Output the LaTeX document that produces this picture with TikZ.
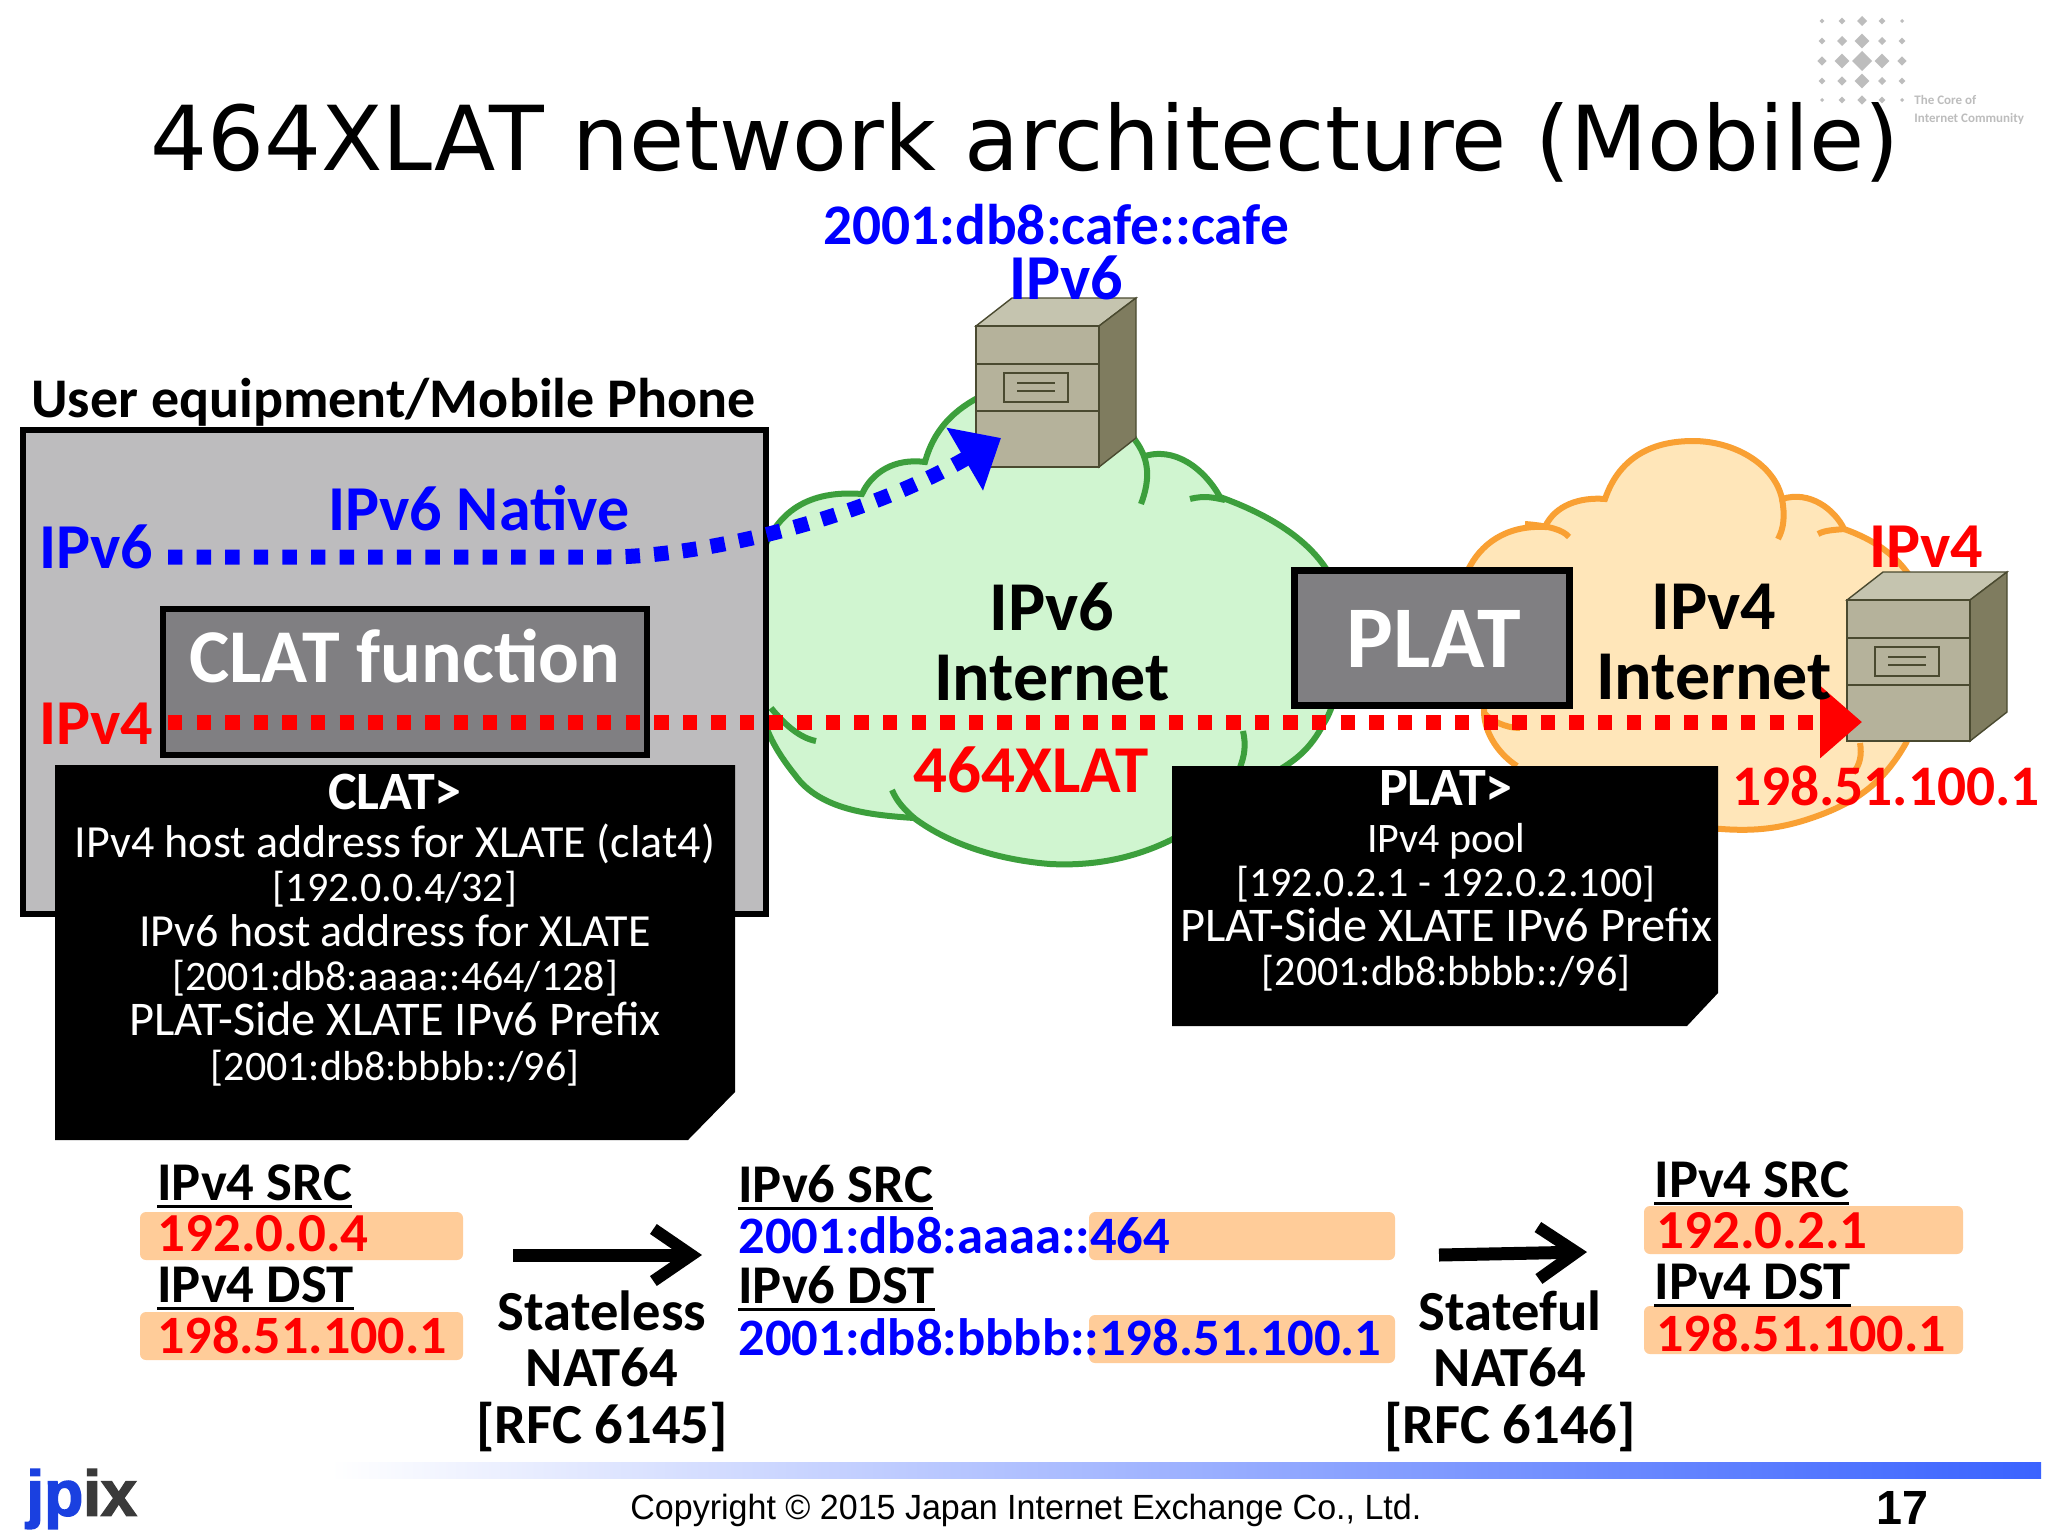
\documentclass[tikz,border=0pt]{standalone}
\usepackage{fontspec}
\usepackage{xcolor}
\usetikzlibrary{arrows.meta}
\newfontfamily\comicfont{Carlito}
\newfontfamily\titlefont{DejaVu Sans}
\newfontfamily\footfont[FakeStretch=0.972]{Liberation Sans}
\newfontfamily\logofont[UprightFont=* Bold,FakeBold=2.5]{Liberation Sans}
\definecolor{uegray}{HTML}{BDBCBE}
\definecolor{fngray}{HTML}{807F82}
\definecolor{cloudgreen}{HTML}{D0F5D0}
\definecolor{edgegreen}{HTML}{3C9F3C}
\definecolor{cloudorange}{HTML}{FFE6B9}
\definecolor{edgeorange}{HTML}{F9A033}
\definecolor{addrorange}{HTML}{FFCC99}
\definecolor{srvfront}{HTML}{B5B29B}
\definecolor{srvtop}{HTML}{C5C4AF}
\definecolor{srvside}{HTML}{7F7C5F}
\definecolor{srvline}{HTML}{4A4A30}
\definecolor{logogray}{HTML}{BDBDBD}
\definecolor{barblue}{HTML}{3A63FF}
\definecolor{logoblue}{HTML}{1A40E0}
\definecolor{logodark}{HTML}{3A3A3A}
\newcommand{\fsz}[1]{\fontsize{#1pt}{#1pt}\selectfont}
\newcommand{\ulhead}[1]{\leavevmode\setbox0\hbox{#1}\rlap{\raisebox{-4pt}{\rule{\wd0}{1.6pt}}}\box0}
\newcommand{\notew}[1]{{\fontsize{23pt}{22.3pt}\selectfont #1}}
\newcommand{\notep}[1]{{\fontsize{24.2pt}{22.3pt}\selectfont #1}}
\newcommand{\noteh}[1]{{\fontsize{27pt}{22.3pt}\selectfont\bfseries #1}}
\tikzset{
    lab/.style={inner sep=0pt,font=\comicfont\bfseries\fsz{#1}},
    notetext/.style={inner sep=0pt,text=white,align=center,font=\comicfont\fontsize{21pt}{22.3pt}\selectfont},
    cloudg/.style={draw=edgegreen,line width=3pt},
    cloudo/.style={draw=edgeorange,line width=3pt},
    framebox/.style={draw=black,line width=3.2pt},
    addrbox/.style={fill=addrorange,rounded corners=3pt},
    dotted six/.style={draw=blue,line width=7.5pt,dash pattern=on 7.2pt off 7.1pt,-{Triangle[length=21pt,width=35pt]}},
    dotted four/.style={draw=red,line width=7.5pt,dash pattern=on 7.2pt off 7.1pt,-{Triangle[length=21pt,width=35pt]}},
    natarrow/.style={draw=black,line width=6.5pt,-{Straight Barb[length=19pt,width=26pt,line width=6pt]}}
}
\begin{document}
\begin{tikzpicture}[x=0.5pt,y=-0.5pt]
    \useasboundingbox (0,0) rectangle (2048,1536);
    \fill[white] (0,0) rectangle (2048,1536);
    \foreach \ly/\lrow in {21/{2.3,3.3,5,3.3,2},41/{3.3,5,7.3,4,3.3},61/{4.7,7.3,10,7.3,4.7},81/{3.3,4.7,7.3,4,3.3},100/{2,3.3,4.7,3.3,2}}{
        \foreach \lsz [count=\j] in \lrow {
            \pgfmathsetmacro\lx{1802+20*\j}
            \fill[logogray] (\lx-\lsz,\ly) -- (\lx,\ly-\lsz) -- (\lx+\lsz,\ly) -- (\lx,\ly+\lsz) -- cycle;
        }
    }
    \node[inner sep=0pt,anchor=west,text=logogray,align=left,font=\comicfont\bfseries\fontsize{6.5pt}{8.8pt}\selectfont] (corelabel) at (1914,110) {The Core of\\Internet Community};
    \node[inner sep=0pt,font=\titlefont\fsz{44.8}] (title) at (1025,142) {464XLAT network architecture (Mobile)};

    \fill[cloudorange] (1468,570) .. controls (1480,545) and (1505,525) .. (1545,527) .. controls (1555,505) and (1580,497) .. (1605,499) .. controls (1620,455) and (1655,441) .. (1693,441) .. controls (1735,441) and (1775,465) .. (1782,499) .. controls (1810,490) and (1835,510) .. (1844,529) .. controls (1875,540) and (1895,555) .. (1909,575) .. controls (1925,640) and (1925,700) .. (1906,743) .. controls (1885,780) and (1860,800) .. (1820,815) .. controls (1780,830) and (1750,832) .. (1710,828) -- (1517,766) .. controls (1500,755) and (1485,735) .. (1484,713) -- cycle;
    \draw[cloudo] (1468,570) .. controls (1480,545) and (1505,525) .. (1545,527) .. controls (1555,505) and (1580,497) .. (1605,499) .. controls (1620,455) and (1655,441) .. (1693,441) .. controls (1735,441) and (1775,465) .. (1782,499) .. controls (1810,490) and (1835,510) .. (1844,529) .. controls (1875,540) and (1895,555) .. (1909,575) .. controls (1925,640) and (1925,700) .. (1906,743) .. controls (1885,780) and (1860,800) .. (1820,815) .. controls (1780,830) and (1750,832) .. (1710,828);
    \draw[cloudo] (1517,766) .. controls (1500,755) and (1485,735) .. (1484,713) -- (1484,690);
    \draw[cloudo] (1525,524) .. controls (1550,526) and (1563,530) .. (1569,537);
    \draw[cloudo] (1782,499) .. controls (1785,515) and (1784,528) .. (1778,539);
    \draw[cloudo] (1818,534) .. controls (1825,530) and (1835,530) .. (1844,529);
    \draw[cloudo] (1860,743) .. controls (1862,755) and (1860,765) .. (1853,773);
    \draw[cloudo] (1484,713) .. controls (1490,720) and (1505,728) .. (1520,728);

    \fill[cloudgreen] (760,560) .. controls (775,510) and (810,490) .. (862,494) .. controls (872,472) and (895,458) .. (925,462) .. controls (935,425) and (960,405) .. (990,392) .. controls (1040,370) and (1110,390) .. (1135,440) -- (1142,457) .. controls (1175,445) and (1205,470) .. (1220,497) .. controls (1270,515) and (1310,540) .. (1330,575) .. controls (1345,620) and (1345,690) .. (1324,723) .. controls (1310,750) and (1295,760) .. (1279,770) .. controls (1215,820) and (1185,832) .. (1171,840) .. controls (1130,860) and (1090,866) .. (1050,864) .. controls (1000,860) and (950,845) .. (914,818) .. controls (870,815) and (820,810) .. (795,775) .. controls (775,750) and (765,730) .. (760,705) -- cycle;
    \draw[cloudg] (760,560) .. controls (775,510) and (810,490) .. (862,494) .. controls (872,472) and (895,458) .. (925,462) .. controls (935,425) and (960,405) .. (990,392) .. controls (1040,370) and (1110,390) .. (1135,440) (1142,457) .. controls (1175,445) and (1205,470) .. (1220,497) .. controls (1270,515) and (1310,540) .. (1330,575) .. controls (1345,620) and (1345,690) .. (1324,723) .. controls (1310,750) and (1295,760) .. (1279,770) .. controls (1215,820) and (1185,832) .. (1171,840) .. controls (1130,860) and (1090,866) .. (1050,864) .. controls (1000,860) and (950,845) .. (914,818) .. controls (870,815) and (820,810) .. (795,775) .. controls (775,750) and (765,730) .. (760,705);
    \draw[cloudg] (1135,440) .. controls (1150,460) and (1150,480) .. (1141,504);
    \draw[cloudg] (1190,499) .. controls (1205,495) and (1215,498) .. (1225,500);
    \draw[cloudg] (771,708) .. controls (785,725) and (800,738) .. (816,741);
    \draw[cloudg] (892,790) .. controls (897,802) and (905,810) .. (914,818);
    \draw[cloudg] (1243,731) .. controls (1246,745) and (1245,755) .. (1239,770);

    \foreach \sx/\sy in {976/326,1847/600}{
        \begin{scope}[shift={(\sx,\sy)}]
            \filldraw[fill=srvtop,draw=srvline,line width=0.7pt] (0,0) -- (36,-28) -- (160,-28) -- (123,0) -- cycle;
            \filldraw[fill=srvside,draw=srvline,line width=0.7pt] (123,0) -- (160,-28) -- (160,112) -- (123,141) -- cycle;
            \filldraw[fill=srvfront,draw=srvline,line width=0.7pt] (0,0) rectangle (123,141);
            \draw[srvline,line width=1pt] (0,38) -- (123,38) (0,85) -- (123,85);
            \draw[srvline,line width=1pt] (28,47) rectangle (92,76);
            \draw[srvline,line width=0.8pt] (41,57) -- (79,57) (41,65) -- (79,65);
        \end{scope}
    }

    \filldraw[fill=uegray,framebox] (23,430) rectangle (766,914);
    \node[lab=28,anchor=south west] (uelabel) at (31,427) {User equipment/Mobile Phone};
    \node[draw=black,fill=fngray,framebox,minimum width=242pt,minimum height=73pt,inner sep=0pt] (clatbox) at (405,682) {};
    \node[lab=38,text=white] (clatlabel) at (405,656) {CLAT function};
    \node[draw=black,fill=fngray,framebox,minimum width=137.5pt,minimum height=67.5pt,inner sep=0pt] (platbox) at (1432,638) {};
    \node[lab=44,text=white] (platlabel) at (1434,639) {PLAT};

    \coordinate (sixstart) at (168,557);
    \coordinate (sixbend) at (607,557);
    \coordinate (sixport) at (1001,438);
    \coordinate (fourstart) at (168,722);
    \coordinate (fourport) at (1862,722);
    \draw[dotted six] (sixstart) -- (sixbend) .. controls (700,557) and (860,520) .. (sixport);
    \draw[dotted four] (fourstart) -- (fourport);

    \fill[black] (55,765) -- (735,765) -- (735,1092) -- (688,1140) -- (55,1140) -- cycle;
    \node[notetext] (clatnote) at (395,930) {\noteh{CLAT>}\\[1.5pt]\notew{IPv4 host address for XLATE (clat4)}\\{}[192.0.0.4/32]\\\notew{IPv6 host address for XLATE}\\{}[2001:db8:aaaa::464/128]\\\notep{PLAT-Side XLATE IPv6 Prefix}\\{}[2001:db8:bbbb::/96]};
    \fill[black] (1172,766) -- (1718,766) -- (1718,993) -- (1687,1026) -- (1172,1026) -- cycle;
    \node[notetext] (platnote) at (1446,881) {\noteh{PLAT>}\\[1pt]IPv4 pool\\{}[192.0.2.1 - 192.0.2.100]\\\notep{PLAT-Side XLATE IPv6 Prefix}\\{}[2001:db8:bbbb::/96]};

    \node[lab=28.7,text=blue] (cafeaddr) at (1056,225) {2001:db8:cafe::cafe};
    \node[lab=32,text=blue] (cafelabel) at (1066,278) {IPv6};
    \node[lab=32,text=blue] (sixlabel) at (96,547) {IPv6};
    \node[lab=32,text=red] (fourlabel) at (96,724) {IPv4};
    \node[lab=32,text=blue] (nativelabel) at (479,508) {IPv6 Native};
    \node[lab=35,align=center] (sixnet) at (1052,642) {IPv6\\Internet};
    \node[lab=35,align=center] (fournet) at (1714,642) {IPv4\\Internet};
    \node[lab=33.5,text=red] (xlatlabel) at (1031,770) {464XLAT};
    \node[lab=32,text=red] (srvfourlabel) at (1926,547) {IPv4};
    \node[lab=28.7,text=red] (srvfouraddr) at (1886,786) {198.51.100.1};

    \fill[addrbox] (140,1212) rectangle (463,1260);
    \fill[addrbox] (140,1312) rectangle (463,1360);
    \fill[addrbox] (1089,1212) rectangle (1395,1260);
    \fill[addrbox] (1089,1315) rectangle (1395,1363);
    \fill[addrbox] (1644,1206) rectangle (1963,1254);
    \fill[addrbox] (1644,1306) rectangle (1963,1354);

    \node[lab=27.3,anchor=base west] (srcone) at (157,1200) {\ulhead{IPv4 SRC}};
    \node[lab=27.5,anchor=base west,text=red] (srconeaddr) at (157,1251) {192.0.0.4};
    \node[lab=27.3,anchor=base west] (dstone) at (157,1302) {\ulhead{IPv4 DST}};
    \node[lab=27,anchor=base west,text=red] (dstoneaddr) at (157,1353) {198.51.100.1};
    \node[lab=27.3,anchor=base west] (srctwo) at (738,1202) {\ulhead{IPv6 SRC}};
    \node[lab=26.3,anchor=base west,text=blue] (srctwoaddr) at (738,1253) {2001:db8:aaaa::464};
    \node[lab=27.3,anchor=base west] (dsttwo) at (738,1303) {\ulhead{IPv6 DST}};
    \node[lab=26.3,anchor=base west,text=blue] (dsttwoaddr) at (738,1355) {2001:db8:bbbb::198.51.100.1};
    \node[lab=27.3,anchor=base west] (srcthree) at (1654,1197) {\ulhead{IPv4 SRC}};
    \node[lab=27.5,anchor=base west,text=red] (srcthreeaddr) at (1656,1248) {192.0.2.1};
    \node[lab=27.3,anchor=base west] (dstthree) at (1654,1299) {\ulhead{IPv4 DST}};
    \node[lab=27,anchor=base west,text=red] (dstthreeaddr) at (1656,1351) {198.51.100.1};

    \coordinate (natonestart) at (513,1255);
    \coordinate (natoneend) at (702,1255);
    \coordinate (nattwostart) at (1439,1255);
    \coordinate (nattwoend) at (1587,1252);
    \draw[natarrow] (natonestart) -- (natoneend);
    \draw[natarrow] (nattwostart) -- (nattwoend);
    \node[lab=28.3,align=center] (statelesslabel) at (602,1371) {Stateless\\NAT64\\{}[RFC 6145]};
    \node[lab=28.3,align=center] (statefullabel) at (1510,1371) {Stateful\\NAT64\\{}[RFC 6146]};

    \fill[left color=white,right color=barblue] (330,1462) rectangle (2041,1478);
    \node[inner sep=0pt,anchor=west,font=\footfont\fsz{17.5}] (copyright) at (630,1510) {Copyright \copyright{} 2015 Japan Internet Exchange Co., Ltd.};
    \node[inner sep=0pt,font=\footfont\bfseries\fsz{24}] (pagenum) at (1902,1508) {17};
    \node[inner sep=0pt,anchor=west,font=\logofont\fsz{32}] (jpix) at (26,1499) {\textcolor{logoblue}{jp}\textcolor{logodark}{ix}};
\end{tikzpicture}
\end{document}
